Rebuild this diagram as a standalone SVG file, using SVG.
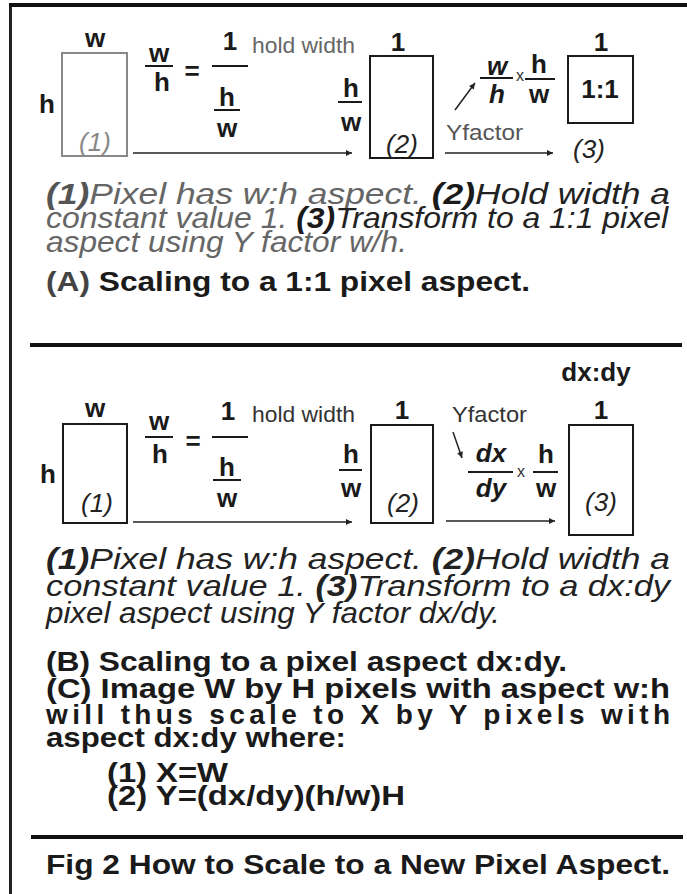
<svg xmlns="http://www.w3.org/2000/svg" width="687" height="894" viewBox="0 0 687 894">
<style>
text{font-family:"Liberation Sans",Arial,sans-serif;}
.b{font-weight:bold;fill:#1a1a1a;}
.lbl{font-size:26px;text-anchor:middle;}
.it{font-style:italic;}
.gr{fill:#888;}
.small{font-size:22px;}
.par{font-size:29px;font-style:italic;fill:#222;}
.parA{font-size:29px;font-style:italic;fill:#666;}
.head{font-size:28px;font-weight:bold;fill:#1a1a1a;}
.box{fill:none;stroke:#1a1a1a;stroke-width:2;}
.bar{stroke:#1a1a1a;stroke-width:2;}
.rule{stroke:#111;stroke-width:4;}
.con{stroke:#222;stroke-width:1.5;fill:none;}
</style>
<defs>
<marker id="ah" viewBox="0 0 10 10" refX="10" refY="5" markerWidth="8" markerHeight="6" markerUnits="userSpaceOnUse" orient="auto"><path d="M0,0 L10,5 L0,10 z" fill="#222"/></marker>
</defs>
<rect width="687" height="894" fill="#fff"/>
<g id="frame">
<line x1="10.5" y1="3" x2="10.5" y2="894" stroke="#222" stroke-width="3"/>
<line x1="9" y1="5" x2="687" y2="5" stroke="#111" stroke-width="4"/>
<line class="rule" x1="30" y1="345" x2="682" y2="345"/>
<line class="rule" x1="31" y1="837" x2="683" y2="837"/>
</g>
<g id="connectors">
<line class="con" x1="133" y1="153" x2="352" y2="153" marker-end="url(#ah)"/>
<line class="con" x1="445" y1="153" x2="553" y2="153" marker-end="url(#ah)"/>
<line class="con" x1="455" y1="110" x2="475" y2="83" marker-end="url(#ah)"/>
<line class="con" x1="133" y1="522" x2="352" y2="522" marker-end="url(#ah)"/>
<line class="con" x1="446" y1="521" x2="555" y2="521" marker-end="url(#ah)"/>
<line class="con" x1="453" y1="432" x2="462" y2="458" marker-end="url(#ah)"/>
</g>
<!-- Section A -->
<g id="a-pixel1">
<text class="b lbl" x="95" y="47">w</text>
<text class="b lbl" x="47" y="113">h</text>
<rect x="62" y="53" width="65" height="103" fill="none" stroke="#888" stroke-width="2"/>
<text class="lbl it gr" x="95" y="151" font-size="28">(1)</text>
</g>
<g id="a-eq">
<text class="b lbl" x="159" y="62">w</text>
<line class="bar" x1="145" y1="66" x2="173" y2="66"/>
<text class="b lbl" x="162" y="91">h</text>
<text class="b lbl" x="192" y="80">=</text>
<text class="b lbl" x="230" y="50">1</text>
<line class="bar" x1="212" y1="66" x2="248" y2="66"/>
<text class="b lbl" x="227" y="106">h</text>
<line class="bar" x1="214" y1="110" x2="240" y2="110"/>
<text class="b lbl" x="227" y="137">w</text>
<text class="small" x="252" y="53" fill="#666" textLength="103" lengthAdjust="spacingAndGlyphs">hold width</text>
</g>
<g id="a-pixel2">
<text class="b lbl" x="351" y="97">h</text>
<line class="bar" x1="338" y1="102" x2="362" y2="102"/>
<text class="b lbl" x="351" y="131">w</text>
<text class="b lbl" x="398" y="51">1</text>
<rect class="box" x="370" y="56" width="63" height="102"/>
<text class="lbl it" x="402" y="153" font-size="28" fill="#222">(2)</text>
</g>
<g id="a-factor">
<text class="small" x="446" y="140" fill="#555" textLength="77" lengthAdjust="spacingAndGlyphs">Yfactor</text>
<text class="b lbl it" x="497" y="75">w</text>
<line class="bar" x1="480" y1="78" x2="513" y2="78"/>
<text class="b lbl it" x="497" y="103">h</text>
<text x="520" y="81" font-size="16" text-anchor="middle" fill="#333">x</text>
<text class="b lbl" x="539" y="73">h</text>
<line class="bar" x1="525" y1="79" x2="555" y2="79"/>
<text class="b lbl" x="539" y="103">w</text>
</g>
<g id="a-pixel3">
<text class="b lbl" x="601" y="51">1</text>
<rect class="box" x="568" y="56" width="65" height="67"/>
<text class="b lbl" x="600" y="98" font-size="28">1:1</text>
<text class="lbl it" x="589" y="158" font-size="28" fill="#222">(3)</text>
</g>
<g id="a-text">
<text class="parA" x="46" y="204" textLength="624" lengthAdjust="spacingAndGlyphs"><tspan font-weight="bold" fill="#555">(1)</tspan>Pixel has w:h aspect. <tspan font-weight="bold" fill="#1a1a1a">(2)</tspan><tspan fill="#222">Hold width a</tspan></text>
<text class="parA" x="46" y="228" textLength="622" lengthAdjust="spacingAndGlyphs">constant value 1. <tspan font-weight="bold" fill="#1a1a1a">(3)</tspan><tspan fill="#222">Transform to a 1:1 pixel</tspan></text>
<text class="parA" x="46" y="252" textLength="361" lengthAdjust="spacingAndGlyphs">aspect using Y factor w/h.</text>
<text class="head" x="46" y="291" textLength="484" lengthAdjust="spacingAndGlyphs"><tspan fill="#444">(A)</tspan> Scaling to a 1:1 pixel aspect.</text>
</g>
<!-- Section B -->
<g id="b-pixel1">
<text class="b lbl" x="95" y="417">w</text>
<text class="b lbl" x="48" y="483">h</text>
<rect class="box" x="63" y="424" width="64" height="99"/>
<text class="lbl it" x="97" y="512" font-size="28" fill="#222">(1)</text>
</g>
<g id="b-eq">
<text class="b lbl" x="159" y="430">w</text>
<line class="bar" x1="145" y1="437" x2="173" y2="437"/>
<text class="b lbl" x="160" y="463">h</text>
<text class="b lbl" x="193" y="450">=</text>
<text class="b lbl" x="228" y="420">1</text>
<line class="bar" x1="212" y1="437" x2="248" y2="437"/>
<text class="b lbl" x="227" y="476">h</text>
<line class="bar" x1="213" y1="480" x2="241" y2="480"/>
<text class="b lbl" x="227" y="507">w</text>
<text class="small" x="252" y="422" fill="#333" textLength="103" lengthAdjust="spacingAndGlyphs">hold width</text>
</g>
<g id="b-pixel2">
<text class="b lbl" x="351" y="463">h</text>
<line class="bar" x1="339" y1="470" x2="362" y2="470"/>
<text class="b lbl" x="351" y="497">w</text>
<text class="b lbl" x="402" y="419">1</text>
<rect class="box" x="371" y="425" width="62" height="98"/>
<text class="lbl it" x="403" y="512" font-size="28" fill="#222">(2)</text>
</g>
<g id="b-factor">
<text class="small" x="452" y="422" fill="#333" textLength="75" lengthAdjust="spacingAndGlyphs">Yfactor</text>
<text class="b lbl it" x="491" y="462">dx</text>
<line class="bar" x1="468" y1="472" x2="513" y2="472"/>
<text class="b lbl it" x="491" y="497">dy</text>
<text x="521" y="477" font-size="16" text-anchor="middle" fill="#333">x</text>
<text class="b lbl" x="546" y="463">h</text>
<line class="bar" x1="533" y1="472" x2="558" y2="472"/>
<text class="b lbl" x="546" y="497">w</text>
</g>
<g id="b-pixel3">
<text class="b lbl" x="596" y="381" font-size="28">dx:dy</text>
<text class="b lbl" x="601" y="419">1</text>
<rect class="box" x="569" y="425" width="64" height="110"/>
<text class="lbl it" x="601" y="511" font-size="28" fill="#222">(3)</text>
</g>
<g id="b-text">
<text class="par" x="46" y="569" textLength="624" lengthAdjust="spacingAndGlyphs"><tspan font-weight="bold">(1)</tspan>Pixel has w:h aspect. <tspan font-weight="bold">(2)</tspan>Hold width a</text>
<text class="par" x="46" y="596" textLength="624" lengthAdjust="spacingAndGlyphs">constant value 1. <tspan font-weight="bold">(3)</tspan>Transform to a dx:dy</text>
<text class="par" x="46" y="623" textLength="454" lengthAdjust="spacingAndGlyphs">pixel aspect using Y factor dx/dy.</text>
<text class="head" x="46" y="671" textLength="521" lengthAdjust="spacingAndGlyphs">(B) Scaling to a pixel aspect dx:dy.</text>
<text class="head" x="46" y="698" textLength="624" lengthAdjust="spacingAndGlyphs">(C) Image W by H pixels with aspect w:h</text>
<text class="head" x="46" y="724" textLength="624" lengthAdjust="spacing">will thus scale to X by Y pixels with</text>
<text class="head" x="46" y="747" textLength="300" lengthAdjust="spacingAndGlyphs">aspect dx:dy where:</text>
<text class="head" x="107" y="782" textLength="121" lengthAdjust="spacingAndGlyphs">(1)  X=W</text>
<text class="head" x="107" y="805" textLength="298" lengthAdjust="spacingAndGlyphs">(2)  Y=(dx/dy)(h/w)H</text>
</g>
<g id="caption">
<text class="head" x="46" y="874" textLength="624" lengthAdjust="spacingAndGlyphs">Fig 2 How to Scale to a New Pixel Aspect.</text>
</g>
</svg>
